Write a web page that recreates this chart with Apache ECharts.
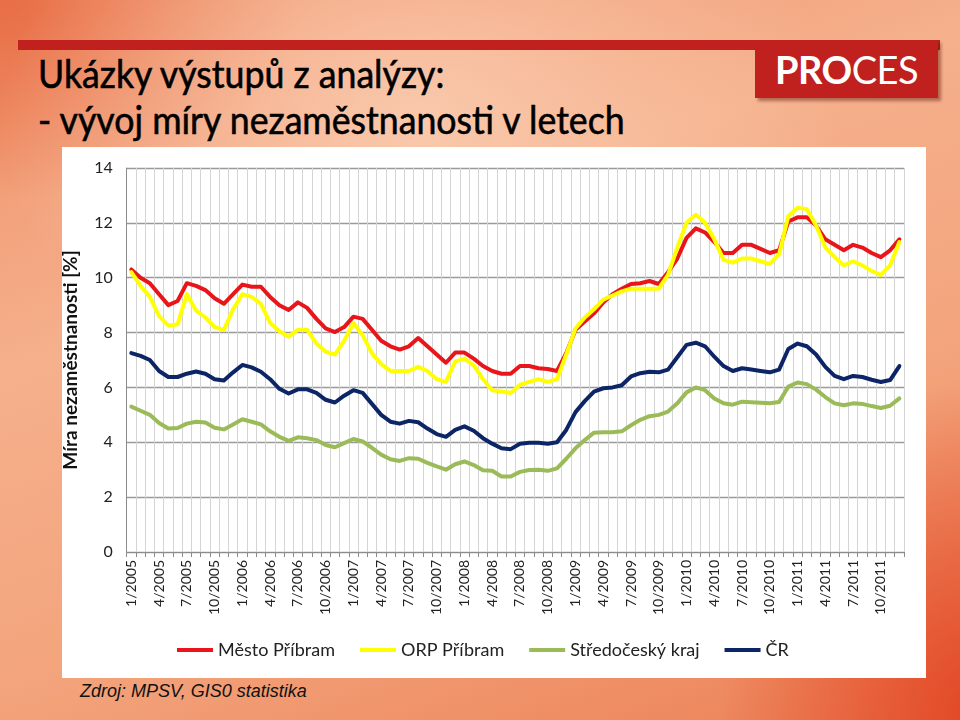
<!DOCTYPE html>
<html>
<head>
<meta charset="utf-8">
<script src="https://cdn.jsdelivr.net/npm/echarts@6/dist/echarts.min.js"></script>
<style>
  html, body { margin: 0; padding: 0; }
  body {
    width: 960px; height: 720px; position: relative; overflow: hidden;
    background:
      radial-gradient(ellipse 420px 300px at 420px 120px, rgba(250,204,176,0.9) 0%, rgba(250,204,176,0) 100%),
      radial-gradient(ellipse 260px 340px at 980px 720px, rgba(226,70,36,1) 0%, rgba(226,70,36,0) 100%),
      radial-gradient(ellipse 300px 200px at 0px 0px, rgba(232,110,70,1) 0%, rgba(232,110,70,0) 100%),
      linear-gradient(160deg, #ef9068 0%, #f5b08c 35%, #f3a47c 65%, #ec7f55 100%);
  }
  .bar { position: absolute; left: 18px; top: 40px; width: 922px; height: 10px; background: #c0201e; }
  .logo { position: absolute; left: 755px; top: 40px; width: 183px; height: 58px; background: #c0201e;
          box-shadow: 3px 3px 3px rgba(90,20,10,0.45); color: #fff; font-family: 'Lato', sans-serif;
          font-size: 38px; line-height: 58px; text-align: center; letter-spacing: -0.5px; }
  .logo b { font-weight: 700; }
  .logo span { font-weight: 400; }
  .title { position: absolute; left: 38px; font-family: 'Lato', sans-serif; font-size: 39px; color: #000;
           white-space: nowrap; transform-origin: 0 0; transform: scaleX(0.915);
           -webkit-text-stroke: 0.6px #000; }
  .panel { position: absolute; left: 62px; top: 147px; width: 864px; height: 531px; background: #fff; }
  .source { position: absolute; left: 80px; top: 681px; font-family: 'Liberation Sans', Arial, sans-serif;
            font-style: italic; font-size: 18px; color: #111; }
  #chart { position: absolute; left: 0; top: 0; width: 960px; height: 720px; }
</style>
</head>
<body>
<div class="bar"></div>
<div class="logo"><b>PRO</b><span>CES</span></div>
<div class="title" id="t1" style="top:50px;">Ukázky výstupů z analýzy:</div>
<div class="title" id="t2" style="top:96px;">- vývoj míry nezaměstnanosti v letech</div>
<div class="panel"></div>
<div class="source">Zdroj: MPSV, GIS0 statistika</div>
<div id="chart"></div>
<script>
// ---- data ----
var years = [2005, 2006, 2007, 2008, 2009, 2010, 2011];
var seriesNames = ['Město Příbram', 'ORP Příbram', 'Středočeský kraj', 'ČR'];
var mestoPribram = [10.3,10.0,9.8,9.4,9.0,9.15,9.8,9.7,9.55,9.25,
  9.05,9.4,9.75,9.67,9.67,9.3,9.0,8.82,9.1,8.9,
  8.5,8.15,8.02,8.2,8.58,8.5,8.1,7.7,7.5,7.38,
  7.5,7.8,7.5,7.2,6.9,7.27,7.27,7.05,6.78,6.6,
  6.5,6.5,6.78,6.78,6.7,6.67,6.6,7.25,8.1,8.4,
  8.7,9.1,9.4,9.6,9.77,9.8,9.88,9.77,10.2,10.7,
  11.45,11.8,11.65,11.3,10.9,10.9,11.2,11.2,11.05,10.9,
  11.0,12.05,12.2,12.2,11.9,11.4,11.2,11.0,11.2,11.1,
  10.9,10.75,11.0,11.4];
var orpPribram = [10.2,9.7,9.3,8.6,8.25,8.3,9.4,8.8,8.55,8.2,
  8.1,8.85,9.4,9.3,9.05,8.35,8.05,7.85,8.1,8.1,
  7.6,7.3,7.2,7.7,8.35,7.9,7.25,6.85,6.6,6.6,
  6.6,6.75,6.6,6.3,6.2,6.95,7.05,6.8,6.3,5.9,
  5.85,5.8,6.1,6.2,6.3,6.2,6.3,7.2,8.15,8.55,
  8.85,9.2,9.35,9.5,9.6,9.6,9.6,9.6,10.1,11.1,
  12.0,12.3,12.0,11.4,10.65,10.55,10.7,10.7,10.6,10.5,
  10.85,12.25,12.55,12.5,11.9,11.1,10.75,10.45,10.6,10.45,
  10.25,10.1,10.45,11.3];
var stredoceskyKraj = [5.3,5.15,5.0,4.7,4.5,4.52,4.68,4.75,4.72,4.53,
  4.47,4.65,4.84,4.75,4.65,4.4,4.2,4.05,4.18,4.15,
  4.08,3.9,3.82,3.97,4.12,4.03,3.8,3.55,3.38,3.32,
  3.42,3.4,3.25,3.12,3.0,3.2,3.3,3.17,2.98,2.96,
  2.75,2.75,2.92,2.99,3.0,2.96,3.05,3.4,3.78,4.08,
  4.35,4.37,4.37,4.4,4.62,4.82,4.95,5.0,5.12,5.42,
  5.82,6.0,5.9,5.6,5.42,5.37,5.48,5.46,5.44,5.42,
  5.47,6.03,6.18,6.12,5.92,5.65,5.42,5.35,5.42,5.4,
  5.32,5.25,5.33,5.6];
var cr = [7.25,7.15,7.0,6.6,6.38,6.38,6.5,6.58,6.5,6.3,
  6.25,6.55,6.82,6.73,6.57,6.3,5.95,5.78,5.93,5.93,
  5.8,5.55,5.45,5.7,5.9,5.8,5.4,5.0,4.75,4.68,
  4.78,4.73,4.5,4.3,4.2,4.45,4.58,4.42,4.15,3.95,
  3.78,3.75,3.95,3.98,3.98,3.95,4.0,4.45,5.1,5.5,
  5.85,5.97,6.0,6.08,6.4,6.52,6.57,6.55,6.65,7.1,
  7.55,7.63,7.5,7.12,6.78,6.6,6.7,6.65,6.6,6.55,
  6.65,7.4,7.6,7.5,7.2,6.75,6.42,6.3,6.42,6.38,
  6.28,6.2,6.27,6.78];
var colors = ['#e8161b', '#ffff00', '#9bbb59', '#0c2566'];
var yTicks = [0, 2, 4, 6, 8, 10, 12, 14];

var categories = [];
years.forEach(function (y) { for (var m = 1; m <= 12; m++) categories.push(m + '/' + y); });
var allData = [mestoPribram, orpPribram, stredoceskyKraj, cr];

var chart = echarts.init(document.getElementById('chart'), null, { renderer: 'canvas' });
var font = 'Lato, "Open Sans", sans-serif';
chart.setOption({
  backgroundColor: 'transparent',
  animation: false,
  color: colors,
  grid: { left: 126.7, right: 56, top: 168, bottom: 168 },
  legend: {
    left: 172, top: 636, icon: 'rect', itemWidth: 36, itemHeight: 4, itemGap: 25,
    textStyle: { fontFamily: font, fontSize: 18, color: '#222', padding: [0, 0, 0, 0] },
    data: seriesNames
  },
  xAxis: {
    type: 'category', data: categories, boundaryGap: true,
    axisLine: { lineStyle: { color: '#8c8c8c', width: 1 } },
    axisTick: { show: true, interval: 0, length: 5, lineStyle: { color: '#8c8c8c' } },
    axisLabel: { interval: 2, rotate: 90, fontFamily: font, fontSize: 14, color: '#222', margin: 8 },
    splitLine: { show: true, interval: 0, lineStyle: { color: '#d4d4d4', width: 1 } }
  },
  yAxis: {
    type: 'value', min: yTicks[0], max: yTicks[yTicks.length - 1], interval: 2,
    name: 'Míra nezaměstnanosti [%]', nameLocation: 'middle', nameGap: 46,
    nameTextStyle: { fontFamily: font, fontSize: 19, fontWeight: 'bold', color: '#111' },
    axisLine: { show: true, lineStyle: { color: '#8c8c8c' } },
    axisTick: { show: false },
    axisLabel: { fontFamily: font, fontSize: 16, color: '#222', margin: 14 },
    splitLine: { lineStyle: { color: '#9a9a9a', width: 1.3 } }
  },
  series: allData.map(function (d, i) {
    return {
      name: seriesNames[i], type: 'line', data: d, showSymbol: false, symbol: 'none',
      lineStyle: { width: 4, color: colors[i], join: 'round', cap: 'round' },
      itemStyle: { color: colors[i] }
    };
  })
});
</script>
</body>
</html>
